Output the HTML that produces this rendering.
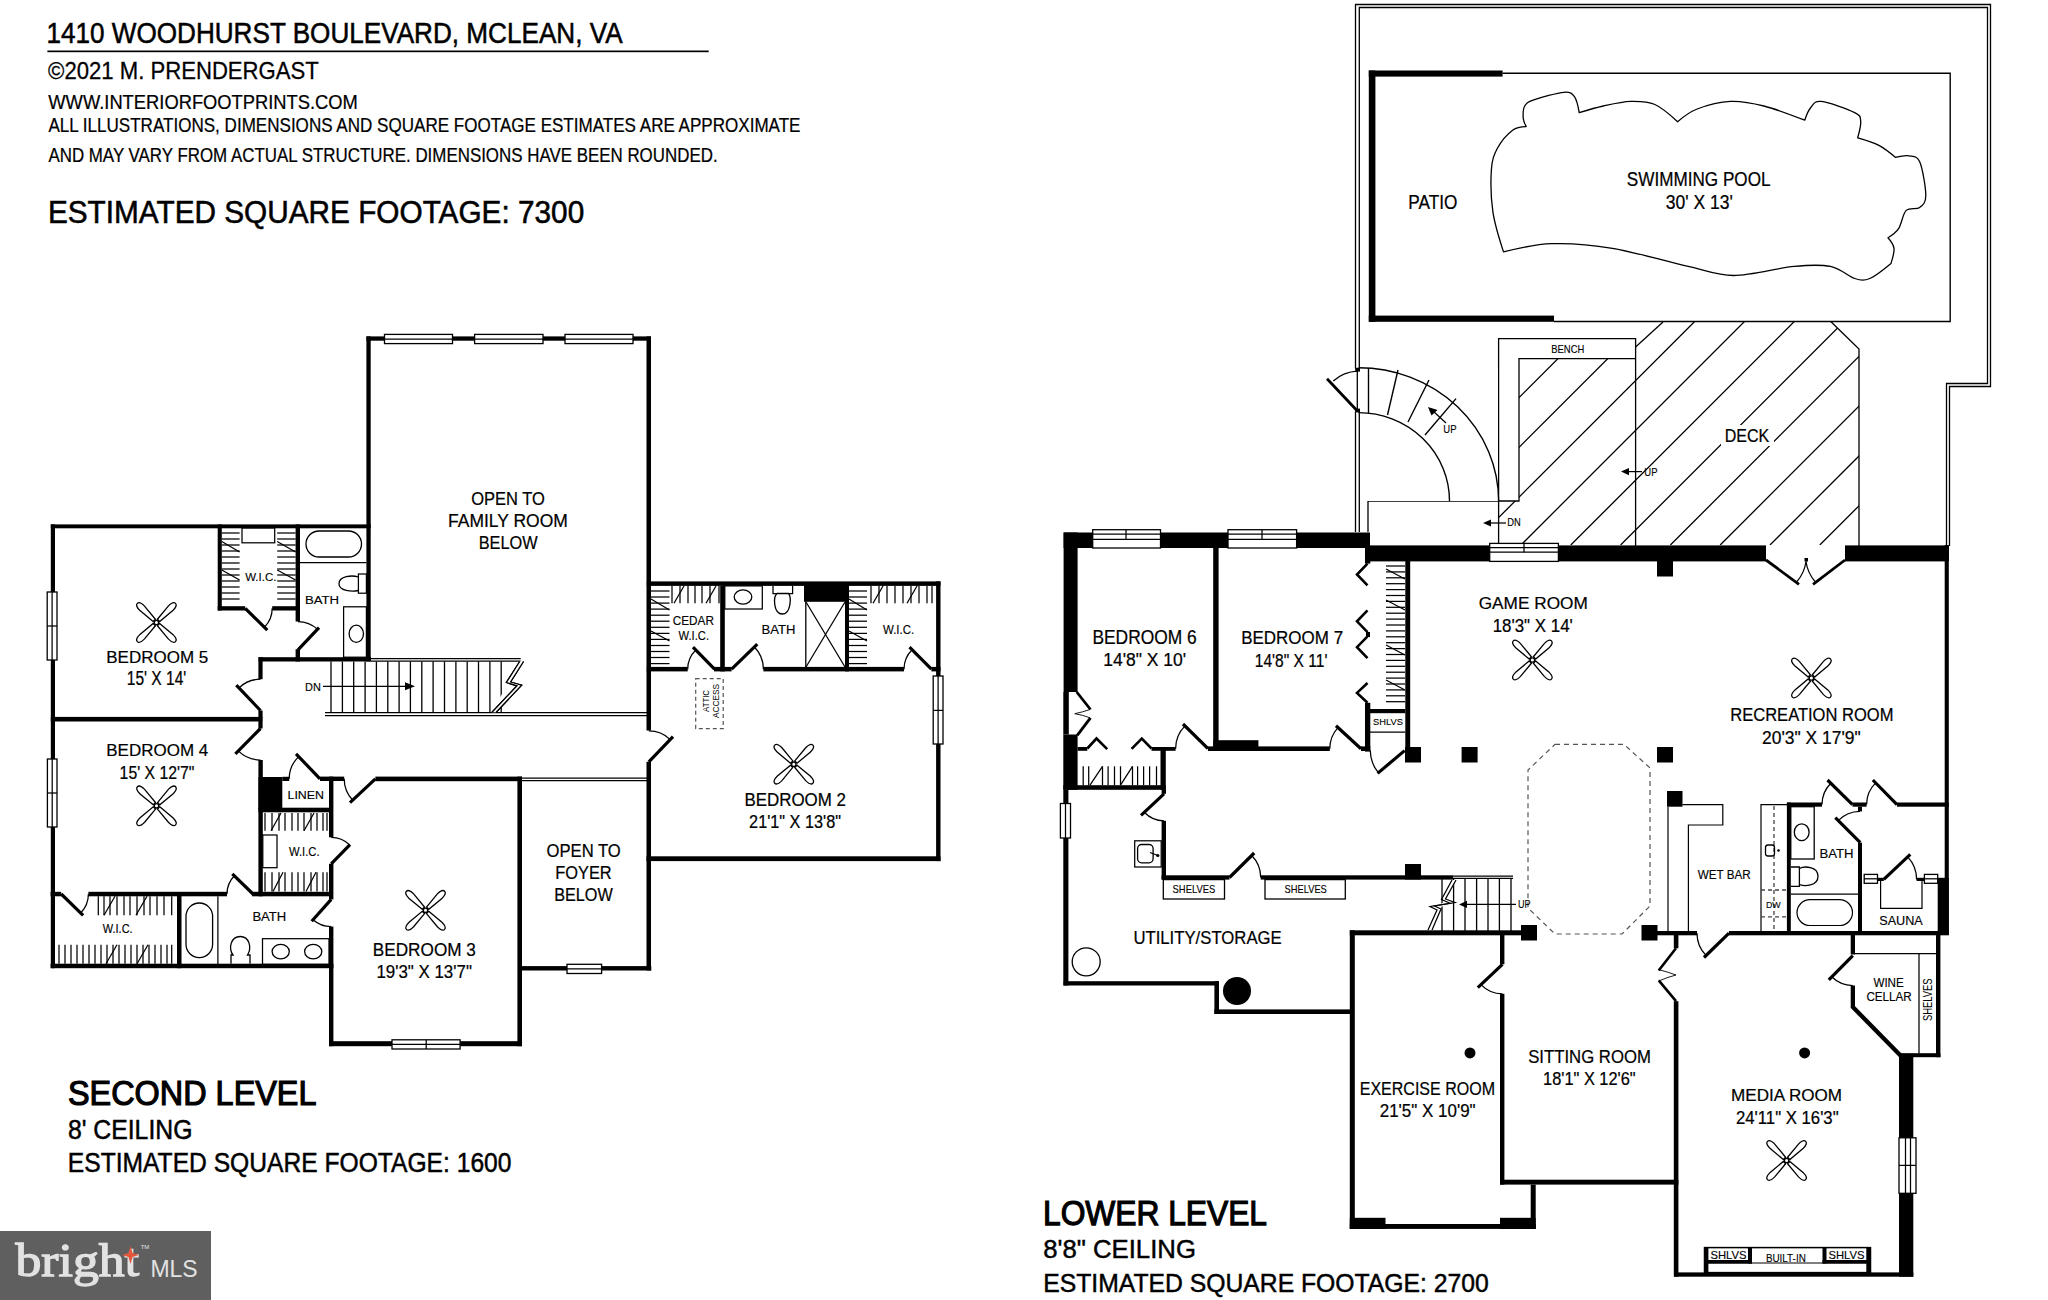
<!DOCTYPE html>
<html><head><meta charset="utf-8"><style>
html,body{margin:0;padding:0;background:#fff;}
svg{display:block;}
text{font-family:"Liberation Sans",sans-serif;fill:#000;}
</style></head><body>
<svg width="2048" height="1300" viewBox="0 0 2048 1300" stroke="#000" fill="none" stroke-linecap="butt">
<rect x="0" y="0" width="2048" height="1300" fill="#fff" stroke="none"/>
<text x="46.4" y="42.5" font-size="28.63" textLength="576.2" lengthAdjust="spacingAndGlyphs" font-weight="normal" stroke="#000" stroke-width="0.52">1410 WOODHURST BOULEVARD, MCLEAN, VA</text>
<rect x="47.4" y="50.5" width="661.3" height="1.7" fill="#000" stroke="none"/>
<text x="48.1" y="79.0" font-size="23.40" textLength="270.7" lengthAdjust="spacingAndGlyphs" font-weight="normal" stroke="#000" stroke-width="0.28">&#169;2021 M. PRENDERGAST</text>
<text x="48.3" y="109.3" font-size="20.20" textLength="309.6" lengthAdjust="spacingAndGlyphs" font-weight="normal" stroke="#000" stroke-width="0.24">WWW.INTERIORFOOTPRINTS.COM</text>
<text x="48.4" y="131.7" font-size="19.33" textLength="752.1" lengthAdjust="spacingAndGlyphs" font-weight="normal" stroke="#000" stroke-width="0.23">ALL ILLUSTRATIONS, DIMENSIONS AND SQUARE FOOTAGE ESTIMATES ARE APPROXIMATE</text>
<text x="48.4" y="162.2" font-size="19.48" textLength="669.2" lengthAdjust="spacingAndGlyphs" font-weight="normal" stroke="#000" stroke-width="0.23">AND MAY VARY FROM ACTUAL STRUCTURE. DIMENSIONS HAVE BEEN ROUNDED.</text>
<text x="47.9" y="222.5" font-size="30.81" textLength="536.3" lengthAdjust="spacingAndGlyphs" font-weight="normal" stroke="#000" stroke-width="0.55">ESTIMATED SQUARE FOOTAGE: 7300</text>
<rect x="50.8" y="524.4" width="4.2" height="443.8" fill="#000" stroke="none"/>
<rect x="50.8" y="524.4" width="319.9" height="3.9" fill="#000" stroke="none"/>
<rect x="50.8" y="716.9" width="211.5" height="4.6" fill="#000" stroke="none"/>
<rect x="217.7" y="524.4" width="4.1" height="86.1" fill="#000" stroke="none"/>
<rect x="217.7" y="606.2" width="27.5" height="4.3" fill="#000" stroke="none"/>
<rect x="272.2" y="606.2" width="27.8" height="4.3" fill="#000" stroke="none"/>
<line x1="245.2" y1="608.3" x2="267.3" y2="630.2" stroke-width="3.2" stroke-linecap="butt"/>
<path d="M264.4,627.3 A27.0,27.0 0 0 0 272.2,608.3" stroke-width="1.25" fill="none"/>
<rect x="295.6" y="524.4" width="4.4" height="97.1" fill="#000" stroke="none"/>
<rect x="295.6" y="649.2" width="4.4" height="12.3" fill="#000" stroke="none"/>
<line x1="298.0" y1="649.8" x2="319.0" y2="627.7" stroke-width="3.2" stroke-linecap="butt"/>
<path d="M317.5,629.3 A28.3,28.3 0 0 0 298.0,621.5" stroke-width="1.25" fill="none"/>
<rect x="366.4" y="336.4" width="4.3" height="325.1" fill="#000" stroke="none"/>
<rect x="366.4" y="336.4" width="284.4" height="4.3" fill="#000" stroke="none"/>
<rect x="646.5" y="336.4" width="4.5" height="394.1" fill="#000" stroke="none"/>
<rect x="646.5" y="761.8" width="4.5" height="208.7" fill="#000" stroke="none"/>
<rect x="384.5" y="334.4" width="68.0" height="9.2" fill="#fff" stroke="none"/>
<rect x="384.5" y="334.4" width="68.0" height="9.2" fill="#fff" stroke-width="1.3"/>
<line x1="384.5" y1="339.2" x2="452.5" y2="339.2" stroke-width="1.25"/>
<rect x="474.6" y="334.4" width="68.4" height="9.2" fill="#fff" stroke="none"/>
<rect x="474.6" y="334.4" width="68.4" height="9.2" fill="#fff" stroke-width="1.3"/>
<line x1="474.6" y1="339.2" x2="543.0" y2="339.2" stroke-width="1.25"/>
<rect x="565.0" y="334.4" width="68.0" height="9.2" fill="#fff" stroke="none"/>
<rect x="565.0" y="334.4" width="68.0" height="9.2" fill="#fff" stroke-width="1.3"/>
<line x1="565.0" y1="339.2" x2="633.0" y2="339.2" stroke-width="1.25"/>
<rect x="258.6" y="657.2" width="112.4" height="4.3" fill="#000" stroke="none"/>
<rect x="258.4" y="657.2" width="4.2" height="22.0" fill="#000" stroke="none"/>
<line x1="260.5" y1="710.5" x2="236.3" y2="685.2" stroke-width="3.2" stroke-linecap="butt"/>
<path d="M238.9,687.9 A31.3,31.3 0 0 1 260.5,679.2" stroke-width="1.25" fill="none"/>
<rect x="258.4" y="710.5" width="4.2" height="18.0" fill="#000" stroke="none"/>
<line x1="260.5" y1="728.5" x2="235.4" y2="753.8" stroke-width="3.2" stroke-linecap="butt"/>
<path d="M238.3,750.9 A31.5,31.5 0 0 0 260.5,760.0" stroke-width="1.25" fill="none"/>
<rect x="258.4" y="760.0" width="4.4" height="136.3" fill="#000" stroke="none"/>
<line x1="371.0" y1="658.6" x2="520.7" y2="658.6" stroke-width="1.25"/>
<line x1="371.0" y1="661.0" x2="520.7" y2="661.0" stroke-width="1.25"/>
<line x1="325.0" y1="712.6" x2="647.0" y2="712.6" stroke-width="1.25"/>
<line x1="325.0" y1="715.6" x2="647.0" y2="715.6" stroke-width="1.25"/>
<line x1="331.0" y1="661.5" x2="331.0" y2="712.2" stroke-width="1.3"/>
<line x1="342.4" y1="661.5" x2="342.4" y2="712.2" stroke-width="1.3"/>
<line x1="353.7" y1="661.5" x2="353.7" y2="712.2" stroke-width="1.3"/>
<line x1="365.1" y1="661.5" x2="365.1" y2="712.2" stroke-width="1.3"/>
<line x1="376.4" y1="661.5" x2="376.4" y2="712.2" stroke-width="1.3"/>
<line x1="387.8" y1="661.5" x2="387.8" y2="712.2" stroke-width="1.3"/>
<line x1="399.1" y1="661.5" x2="399.1" y2="712.2" stroke-width="1.3"/>
<line x1="410.4" y1="661.5" x2="410.4" y2="712.2" stroke-width="1.3"/>
<line x1="421.8" y1="661.5" x2="421.8" y2="712.2" stroke-width="1.3"/>
<line x1="433.1" y1="661.5" x2="433.1" y2="712.2" stroke-width="1.3"/>
<line x1="444.5" y1="661.5" x2="444.5" y2="712.2" stroke-width="1.3"/>
<line x1="455.9" y1="661.5" x2="455.9" y2="712.2" stroke-width="1.3"/>
<line x1="467.2" y1="661.5" x2="467.2" y2="712.2" stroke-width="1.3"/>
<line x1="478.5" y1="661.5" x2="478.5" y2="712.2" stroke-width="1.3"/>
<line x1="489.9" y1="661.5" x2="489.9" y2="712.2" stroke-width="1.3"/>
<line x1="501.2" y1="661.5" x2="501.2" y2="712.2" stroke-width="1.3"/>
<path d="M519.7,661.5 L506.4,682.5 L517.0,685.8 L492.0,712.2" stroke-width="1.3" fill="#fff" />
<path d="M523.5,661.5 L510.6,682.0 L521.6,685.2 L496.2,712.2" stroke-width="1.3" fill="none" />
<polygon points="519.7,661.5 523.5,661.5 510.6,682 521.6,685.2 496.2,712.2 492,712.2 517,685.8 506.4,682.5" fill="#fff" stroke="none"/>
<path d="M519.7,661.5 L506.4,682.5 L517.0,685.8 L492.0,712.2" stroke-width="1.25" fill="none" />
<path d="M523.5,661.5 L510.6,682.0 L521.6,685.2 L496.2,712.2" stroke-width="1.25" fill="none" />
<line x1="323.0" y1="686.3" x2="407.0" y2="686.3" stroke-width="1.25"/>
<polygon points="405,682.3 415,686.3 405,690.3" fill="#000" stroke="none"/>
<rect x="258.5" y="777.0" width="23.8" height="33.0" fill="#000" stroke="none"/>
<rect x="282.3" y="776.8" width="6.9" height="4.2" fill="#000" stroke="none"/>
<rect x="320.0" y="776.6" width="24.2" height="4.4" fill="#000" stroke="none"/>
<line x1="320.0" y1="778.8" x2="296.0" y2="753.8" stroke-width="3.2" stroke-linecap="butt"/>
<path d="M298.7,756.6 A30.8,30.8 0 0 0 289.2,778.8" stroke-width="1.25" fill="none"/>
<rect x="375.4" y="776.6" width="146.6" height="4.6" fill="#000" stroke="none"/>
<line x1="375.4" y1="778.8" x2="350.0" y2="802.7" stroke-width="3.2" stroke-linecap="butt"/>
<path d="M352.7,800.2 A31.2,31.2 0 0 1 344.2,778.8" stroke-width="1.25" fill="none"/>
<rect x="258.5" y="807.7" width="74.5" height="4.6" fill="#000" stroke="none"/>
<rect x="329.0" y="776.6" width="4.4" height="60.7" fill="#000" stroke="none"/>
<line x1="331.2" y1="863.8" x2="350.0" y2="844.6" stroke-width="3.2" stroke-linecap="butt"/>
<path d="M349.7,844.9 A26.5,26.5 0 0 0 331.2,837.3" stroke-width="1.25" fill="none"/>
<rect x="329.0" y="863.8" width="4.4" height="35.6" fill="#000" stroke="none"/>
<line x1="331.2" y1="899.4" x2="311.7" y2="921.3" stroke-width="3.2" stroke-linecap="butt"/>
<path d="M313.1,919.7 A27.2,27.2 0 0 0 331.2,926.6" stroke-width="1.25" fill="none"/>
<rect x="329.0" y="926.6" width="4.4" height="119.6" fill="#000" stroke="none"/>
<rect x="517.4" y="776.6" width="4.6" height="269.6" fill="#000" stroke="none"/>
<rect x="329.0" y="1041.2" width="193.0" height="5.0" fill="#000" stroke="none"/>
<rect x="392.0" y="1039.8" width="68.1" height="9.2" fill="#fff" stroke="none"/>
<rect x="392.0" y="1039.8" width="68.1" height="9.2" fill="#fff" stroke-width="1.3"/>
<line x1="392.0" y1="1044.4" x2="460.1" y2="1044.4" stroke-width="1.25"/>
<line x1="426.2" y1="1039.8" x2="426.2" y2="1049.0" stroke-width="1.25"/>
<line x1="522.0" y1="778.0" x2="647.0" y2="778.0" stroke-width="1.25"/>
<line x1="522.0" y1="780.6" x2="647.0" y2="780.6" stroke-width="1.25"/>
<rect x="522.0" y="966.1" width="129.3" height="4.4" fill="#000" stroke="none"/>
<rect x="567.0" y="964.3" width="34.6" height="9.2" fill="#fff" stroke="none"/>
<rect x="567.0" y="964.3" width="34.6" height="9.2" fill="#fff" stroke-width="1.3"/>
<line x1="567.0" y1="968.9" x2="601.6" y2="968.9" stroke-width="1.25"/>
<rect x="50.6" y="891.8" width="10.6" height="4.5" fill="#000" stroke="none"/>
<rect x="88.4" y="891.8" width="138.6" height="4.5" fill="#000" stroke="none"/>
<rect x="252.0" y="891.8" width="81.0" height="4.5" fill="#000" stroke="none"/>
<line x1="61.2" y1="894.0" x2="83.1" y2="915.3" stroke-width="3.2" stroke-linecap="butt"/>
<path d="M80.7,913.0 A27.2,27.2 0 0 0 88.4,894.0" stroke-width="1.25" fill="none"/>
<line x1="253.0" y1="894.0" x2="232.3" y2="873.8" stroke-width="3.2" stroke-linecap="butt"/>
<path d="M234.4,875.8 A26.0,26.0 0 0 0 227.0,894.0" stroke-width="1.25" fill="none"/>
<rect x="177.0" y="892.0" width="4.5" height="76.2" fill="#000" stroke="none"/>
<rect x="50.6" y="963.7" width="282.8" height="4.5" fill="#000" stroke="none"/>
<rect x="47.2" y="592.0" width="9.8" height="68.0" fill="#fff" stroke-width="1.3"/>
<line x1="52.1" y1="592.0" x2="52.1" y2="660.0" stroke-width="1.25"/>
<line x1="47.2" y1="626.0" x2="57.0" y2="626.0" stroke-width="1.25"/>
<rect x="47.4" y="759.0" width="9.6" height="68.0" fill="#fff" stroke-width="1.3"/>
<line x1="52.2" y1="759.0" x2="52.2" y2="827.0" stroke-width="1.25"/>
<line x1="47.4" y1="793.0" x2="57.0" y2="793.0" stroke-width="1.25"/>
<rect x="646.8" y="581.4" width="293.7" height="4.5" fill="#000" stroke="none"/>
<rect x="936.1" y="581.4" width="4.4" height="279.7" fill="#000" stroke="none"/>
<rect x="646.5" y="856.3" width="294.0" height="4.8" fill="#000" stroke="none"/>
<rect x="933.2" y="676.0" width="9.8" height="68.0" fill="#fff" stroke-width="1.3"/>
<line x1="938.1" y1="676.0" x2="938.1" y2="744.0" stroke-width="1.25"/>
<line x1="933.2" y1="710.4" x2="943.0" y2="710.4" stroke-width="1.25"/>
<rect x="720.2" y="585.9" width="4.6" height="85.5" fill="#000" stroke="none"/>
<rect x="804.0" y="585.0" width="45.0" height="16.8" fill="#000" stroke="none"/>
<rect x="845.0" y="585.9" width="4.0" height="85.5" fill="#000" stroke="none"/>
<line x1="805.8" y1="601.8" x2="805.8" y2="667.0" stroke-width="1.3"/>
<line x1="806.0" y1="602.0" x2="845.0" y2="667.0" stroke-width="1.25"/>
<line x1="845.0" y1="602.0" x2="806.0" y2="667.0" stroke-width="1.25"/>
<rect x="646.8" y="666.9" width="40.9" height="4.5" fill="#000" stroke="none"/>
<rect x="714.0" y="666.9" width="17.6" height="4.5" fill="#000" stroke="none"/>
<rect x="763.4" y="666.9" width="140.6" height="4.5" fill="#000" stroke="none"/>
<rect x="931.4" y="666.9" width="9.1" height="4.5" fill="#000" stroke="none"/>
<line x1="714.5" y1="669.2" x2="693.0" y2="647.2" stroke-width="3.2" stroke-linecap="butt"/>
<path d="M695.8,650.0 A26.8,26.8 0 0 0 687.7,669.2" stroke-width="1.25" fill="none"/>
<line x1="731.6" y1="669.2" x2="757.3" y2="644.2" stroke-width="3.2" stroke-linecap="butt"/>
<path d="M754.4,647.0 A31.8,31.8 0 0 1 763.4,669.2" stroke-width="1.25" fill="none"/>
<line x1="931.4" y1="669.2" x2="909.5" y2="647.2" stroke-width="3.2" stroke-linecap="butt"/>
<path d="M912.1,649.8 A27.4,27.4 0 0 0 904.0,669.2" stroke-width="1.25" fill="none"/>
<line x1="648.8" y1="761.8" x2="673.0" y2="736.7" stroke-width="3.2" stroke-linecap="butt"/>
<path d="M670.2,739.6 A30.8,30.8 0 0 0 648.8,731.0" stroke-width="1.25" fill="none"/>
<rect x="306" y="531" width="55.5" height="26" rx="13" fill="none" stroke-width="1.3"/>
<line x1="300.0" y1="562.5" x2="366.4" y2="562.5" stroke-width="1.25"/>
<rect x="358.4" y="574" width="8" height="19.2" fill="none" stroke-width="1.25"/>
<path d="M358.4,577 C352,575 339,576 339,583.7 C339,591 352,592 358.4,590.5" fill="none" stroke-width="1.3"/>
<rect x="343.6" y="606.8" width="22.8" height="50.4" fill="none" stroke-width="1.25"/>
<ellipse cx="356.3" cy="633.8" rx="7.2" ry="8.6" fill="none" stroke-width="1.3"/>
<rect x="242" y="528" width="32.7" height="14.8" fill="none" stroke-width="1.25"/>
<line x1="221.8" y1="533.0" x2="239.6" y2="533.0" stroke-width="1.25"/>
<line x1="277.2" y1="533.0" x2="295.6" y2="533.0" stroke-width="1.25"/>
<line x1="221.8" y1="539.0" x2="239.6" y2="539.0" stroke-width="1.25"/>
<line x1="277.2" y1="539.0" x2="295.6" y2="539.0" stroke-width="1.25"/>
<line x1="221.8" y1="545.0" x2="239.6" y2="545.0" stroke-width="1.25"/>
<line x1="277.2" y1="545.0" x2="295.6" y2="545.0" stroke-width="1.25"/>
<line x1="221.8" y1="551.0" x2="239.6" y2="551.0" stroke-width="1.25"/>
<line x1="277.2" y1="551.0" x2="295.6" y2="551.0" stroke-width="1.25"/>
<line x1="221.8" y1="557.0" x2="239.6" y2="557.0" stroke-width="1.25"/>
<line x1="277.2" y1="557.0" x2="295.6" y2="557.0" stroke-width="1.25"/>
<line x1="221.8" y1="563.0" x2="239.6" y2="563.0" stroke-width="1.25"/>
<line x1="277.2" y1="563.0" x2="295.6" y2="563.0" stroke-width="1.25"/>
<line x1="221.8" y1="569.0" x2="239.6" y2="569.0" stroke-width="1.25"/>
<line x1="277.2" y1="569.0" x2="295.6" y2="569.0" stroke-width="1.25"/>
<line x1="221.8" y1="575.0" x2="239.6" y2="575.0" stroke-width="1.25"/>
<line x1="277.2" y1="575.0" x2="295.6" y2="575.0" stroke-width="1.25"/>
<line x1="221.8" y1="581.0" x2="239.6" y2="581.0" stroke-width="1.25"/>
<line x1="277.2" y1="581.0" x2="295.6" y2="581.0" stroke-width="1.25"/>
<line x1="221.8" y1="587.0" x2="239.6" y2="587.0" stroke-width="1.25"/>
<line x1="277.2" y1="587.0" x2="295.6" y2="587.0" stroke-width="1.25"/>
<line x1="221.8" y1="593.0" x2="239.6" y2="593.0" stroke-width="1.25"/>
<line x1="277.2" y1="593.0" x2="295.6" y2="593.0" stroke-width="1.25"/>
<line x1="221.8" y1="599.0" x2="239.6" y2="599.0" stroke-width="1.25"/>
<line x1="277.2" y1="599.0" x2="295.6" y2="599.0" stroke-width="1.25"/>
<line x1="221.8" y1="541.5" x2="239.6" y2="552.0" stroke-width="1.25"/>
<line x1="277.2" y1="541.5" x2="295.6" y2="552.0" stroke-width="1.25"/>
<line x1="221.8" y1="570.0" x2="239.6" y2="580.0" stroke-width="1.25"/>
<line x1="277.2" y1="570.0" x2="295.6" y2="580.0" stroke-width="1.25"/>
<line x1="651.0" y1="591.0" x2="669.5" y2="591.0" stroke-width="1.25"/>
<line x1="651.0" y1="597.0" x2="669.5" y2="597.0" stroke-width="1.25"/>
<line x1="651.0" y1="603.1" x2="669.5" y2="603.1" stroke-width="1.25"/>
<line x1="651.0" y1="609.1" x2="669.5" y2="609.1" stroke-width="1.25"/>
<line x1="651.0" y1="615.2" x2="669.5" y2="615.2" stroke-width="1.25"/>
<line x1="651.0" y1="621.2" x2="669.5" y2="621.2" stroke-width="1.25"/>
<line x1="651.0" y1="627.3" x2="669.5" y2="627.3" stroke-width="1.25"/>
<line x1="651.0" y1="633.4" x2="669.5" y2="633.4" stroke-width="1.25"/>
<line x1="651.0" y1="639.4" x2="669.5" y2="639.4" stroke-width="1.25"/>
<line x1="651.0" y1="645.5" x2="669.5" y2="645.5" stroke-width="1.25"/>
<line x1="651.0" y1="651.5" x2="669.5" y2="651.5" stroke-width="1.25"/>
<line x1="651.0" y1="657.5" x2="669.5" y2="657.5" stroke-width="1.25"/>
<line x1="651.0" y1="663.6" x2="669.5" y2="663.6" stroke-width="1.25"/>
<line x1="651.0" y1="599.0" x2="669.5" y2="610.0" stroke-width="1.25"/>
<line x1="651.0" y1="631.0" x2="669.5" y2="641.0" stroke-width="1.25"/>
<line x1="672.0" y1="586.0" x2="672.0" y2="603.3" stroke-width="1.25"/>
<line x1="680.0" y1="586.0" x2="680.0" y2="603.3" stroke-width="1.25"/>
<line x1="688.0" y1="586.0" x2="688.0" y2="603.3" stroke-width="1.25"/>
<line x1="695.0" y1="586.0" x2="695.0" y2="603.3" stroke-width="1.25"/>
<line x1="702.0" y1="586.0" x2="702.0" y2="603.3" stroke-width="1.25"/>
<line x1="710.0" y1="586.0" x2="710.0" y2="603.3" stroke-width="1.25"/>
<line x1="719.0" y1="586.0" x2="719.0" y2="603.3" stroke-width="1.25"/>
<line x1="674.0" y1="603.3" x2="684.0" y2="586.0" stroke-width="1.25"/>
<line x1="706.0" y1="603.3" x2="716.0" y2="586.0" stroke-width="1.25"/>
<line x1="849.0" y1="591.0" x2="867.0" y2="591.0" stroke-width="1.25"/>
<line x1="849.0" y1="597.0" x2="867.0" y2="597.0" stroke-width="1.25"/>
<line x1="849.0" y1="603.1" x2="867.0" y2="603.1" stroke-width="1.25"/>
<line x1="849.0" y1="609.1" x2="867.0" y2="609.1" stroke-width="1.25"/>
<line x1="849.0" y1="615.2" x2="867.0" y2="615.2" stroke-width="1.25"/>
<line x1="849.0" y1="621.2" x2="867.0" y2="621.2" stroke-width="1.25"/>
<line x1="849.0" y1="627.3" x2="867.0" y2="627.3" stroke-width="1.25"/>
<line x1="849.0" y1="633.4" x2="867.0" y2="633.4" stroke-width="1.25"/>
<line x1="849.0" y1="639.4" x2="867.0" y2="639.4" stroke-width="1.25"/>
<line x1="849.0" y1="645.5" x2="867.0" y2="645.5" stroke-width="1.25"/>
<line x1="849.0" y1="651.5" x2="867.0" y2="651.5" stroke-width="1.25"/>
<line x1="849.0" y1="657.5" x2="867.0" y2="657.5" stroke-width="1.25"/>
<line x1="849.0" y1="663.6" x2="867.0" y2="663.6" stroke-width="1.25"/>
<line x1="849.0" y1="599.0" x2="867.0" y2="610.0" stroke-width="1.25"/>
<line x1="849.0" y1="631.0" x2="867.0" y2="641.0" stroke-width="1.25"/>
<line x1="871.0" y1="586.0" x2="871.0" y2="603.3" stroke-width="1.25"/>
<line x1="879.0" y1="586.0" x2="879.0" y2="603.3" stroke-width="1.25"/>
<line x1="887.0" y1="586.0" x2="887.0" y2="603.3" stroke-width="1.25"/>
<line x1="895.0" y1="586.0" x2="895.0" y2="603.3" stroke-width="1.25"/>
<line x1="903.0" y1="586.0" x2="903.0" y2="603.3" stroke-width="1.25"/>
<line x1="911.0" y1="586.0" x2="911.0" y2="603.3" stroke-width="1.25"/>
<line x1="919.0" y1="586.0" x2="919.0" y2="603.3" stroke-width="1.25"/>
<line x1="927.0" y1="586.0" x2="927.0" y2="603.3" stroke-width="1.25"/>
<line x1="932.0" y1="586.0" x2="932.0" y2="603.3" stroke-width="1.25"/>
<line x1="873.0" y1="603.3" x2="883.0" y2="586.0" stroke-width="1.25"/>
<line x1="907.0" y1="603.3" x2="917.0" y2="586.0" stroke-width="1.25"/>
<rect x="724.8" y="585.9" width="37.5" height="23.1" fill="none" stroke-width="1.25"/>
<ellipse cx="743" cy="597" rx="8.8" ry="7.2" fill="none" stroke-width="1.3"/>
<path d="M773,585.9 V593.5 H777 M792.6,585.9 V593.5 H788.5" fill="none" stroke-width="1.25"/>
<path d="M777,593.5 C773,597 773.5,614 782.3,614 C791,614 791.5,597 788.5,593.5 Z" fill="none" stroke-width="1.3"/>
<rect x="695.7" y="678.6" width="27.5" height="50.1" fill="none" stroke="#555" stroke-width="1.2" stroke-dasharray="4,3"/>
<text transform="translate(708.5,712) rotate(-90)" font-size="9.3" textLength="22" lengthAdjust="spacingAndGlyphs" stroke="none">ATTIC</text>
<text transform="translate(719,718) rotate(-90)" font-size="9.3" textLength="34" lengthAdjust="spacingAndGlyphs" stroke="none">ACCESS</text>
<rect x="262.8" y="835" width="14.2" height="32.7" fill="none" stroke-width="1.25"/>
<line x1="265.0" y1="813.0" x2="265.0" y2="830.8" stroke-width="1.25"/>
<line x1="265.0" y1="872.3" x2="265.0" y2="891.5" stroke-width="1.25"/>
<line x1="272.0" y1="813.0" x2="272.0" y2="830.8" stroke-width="1.25"/>
<line x1="272.0" y1="872.3" x2="272.0" y2="891.5" stroke-width="1.25"/>
<line x1="279.0" y1="813.0" x2="279.0" y2="830.8" stroke-width="1.25"/>
<line x1="279.0" y1="872.3" x2="279.0" y2="891.5" stroke-width="1.25"/>
<line x1="285.0" y1="813.0" x2="285.0" y2="830.8" stroke-width="1.25"/>
<line x1="285.0" y1="872.3" x2="285.0" y2="891.5" stroke-width="1.25"/>
<line x1="292.0" y1="813.0" x2="292.0" y2="830.8" stroke-width="1.25"/>
<line x1="292.0" y1="872.3" x2="292.0" y2="891.5" stroke-width="1.25"/>
<line x1="298.0" y1="813.0" x2="298.0" y2="830.8" stroke-width="1.25"/>
<line x1="298.0" y1="872.3" x2="298.0" y2="891.5" stroke-width="1.25"/>
<line x1="304.0" y1="813.0" x2="304.0" y2="830.8" stroke-width="1.25"/>
<line x1="304.0" y1="872.3" x2="304.0" y2="891.5" stroke-width="1.25"/>
<line x1="311.0" y1="813.0" x2="311.0" y2="830.8" stroke-width="1.25"/>
<line x1="311.0" y1="872.3" x2="311.0" y2="891.5" stroke-width="1.25"/>
<line x1="317.0" y1="813.0" x2="317.0" y2="830.8" stroke-width="1.25"/>
<line x1="317.0" y1="872.3" x2="317.0" y2="891.5" stroke-width="1.25"/>
<line x1="323.0" y1="813.0" x2="323.0" y2="830.8" stroke-width="1.25"/>
<line x1="323.0" y1="872.3" x2="323.0" y2="891.5" stroke-width="1.25"/>
<line x1="327.0" y1="813.0" x2="327.0" y2="830.8" stroke-width="1.25"/>
<line x1="327.0" y1="872.3" x2="327.0" y2="891.5" stroke-width="1.25"/>
<line x1="271.0" y1="830.8" x2="281.0" y2="813.0" stroke-width="1.25"/>
<line x1="304.0" y1="830.8" x2="314.0" y2="813.0" stroke-width="1.25"/>
<line x1="273.0" y1="891.5" x2="283.0" y2="872.3" stroke-width="1.25"/>
<line x1="306.0" y1="891.5" x2="316.0" y2="872.3" stroke-width="1.25"/>
<line x1="98.3" y1="896.3" x2="98.3" y2="915.3" stroke-width="1.25"/>
<line x1="104.0" y1="896.3" x2="104.0" y2="915.3" stroke-width="1.25"/>
<line x1="110.0" y1="896.3" x2="110.0" y2="915.3" stroke-width="1.25"/>
<line x1="117.0" y1="896.3" x2="117.0" y2="915.3" stroke-width="1.25"/>
<line x1="124.0" y1="896.3" x2="124.0" y2="915.3" stroke-width="1.25"/>
<line x1="130.0" y1="896.3" x2="130.0" y2="915.3" stroke-width="1.25"/>
<line x1="137.0" y1="896.3" x2="137.0" y2="915.3" stroke-width="1.25"/>
<line x1="144.0" y1="896.3" x2="144.0" y2="915.3" stroke-width="1.25"/>
<line x1="150.0" y1="896.3" x2="150.0" y2="915.3" stroke-width="1.25"/>
<line x1="157.0" y1="896.3" x2="157.0" y2="915.3" stroke-width="1.25"/>
<line x1="164.0" y1="896.3" x2="164.0" y2="915.3" stroke-width="1.25"/>
<line x1="171.7" y1="896.3" x2="171.7" y2="915.3" stroke-width="1.25"/>
<line x1="59.0" y1="944.8" x2="59.0" y2="963.7" stroke-width="1.25"/>
<line x1="65.0" y1="944.8" x2="65.0" y2="963.7" stroke-width="1.25"/>
<line x1="71.0" y1="944.8" x2="71.0" y2="963.7" stroke-width="1.25"/>
<line x1="77.0" y1="944.8" x2="77.0" y2="963.7" stroke-width="1.25"/>
<line x1="83.0" y1="944.8" x2="83.0" y2="963.7" stroke-width="1.25"/>
<line x1="89.0" y1="944.8" x2="89.0" y2="963.7" stroke-width="1.25"/>
<line x1="95.0" y1="944.8" x2="95.0" y2="963.7" stroke-width="1.25"/>
<line x1="101.0" y1="944.8" x2="101.0" y2="963.7" stroke-width="1.25"/>
<line x1="107.0" y1="944.8" x2="107.0" y2="963.7" stroke-width="1.25"/>
<line x1="113.0" y1="944.8" x2="113.0" y2="963.7" stroke-width="1.25"/>
<line x1="119.0" y1="944.8" x2="119.0" y2="963.7" stroke-width="1.25"/>
<line x1="125.0" y1="944.8" x2="125.0" y2="963.7" stroke-width="1.25"/>
<line x1="131.0" y1="944.8" x2="131.0" y2="963.7" stroke-width="1.25"/>
<line x1="137.0" y1="944.8" x2="137.0" y2="963.7" stroke-width="1.25"/>
<line x1="143.0" y1="944.8" x2="143.0" y2="963.7" stroke-width="1.25"/>
<line x1="149.0" y1="944.8" x2="149.0" y2="963.7" stroke-width="1.25"/>
<line x1="155.0" y1="944.8" x2="155.0" y2="963.7" stroke-width="1.25"/>
<line x1="161.0" y1="944.8" x2="161.0" y2="963.7" stroke-width="1.25"/>
<line x1="167.0" y1="944.8" x2="167.0" y2="963.7" stroke-width="1.25"/>
<line x1="171.7" y1="944.8" x2="171.7" y2="963.7" stroke-width="1.25"/>
<line x1="104.0" y1="915.3" x2="115.0" y2="896.3" stroke-width="1.25"/>
<line x1="136.0" y1="915.3" x2="147.0" y2="896.3" stroke-width="1.25"/>
<line x1="106.0" y1="963.7" x2="117.0" y2="944.8" stroke-width="1.25"/>
<line x1="137.0" y1="963.7" x2="148.0" y2="944.8" stroke-width="1.25"/>
<rect x="186" y="903" width="26.6" height="54.6" rx="13.3" fill="none" stroke-width="1.3"/>
<line x1="217.9" y1="896.3" x2="217.9" y2="964.0" stroke-width="1.25"/>
<path d="M231,963.7 V955 H233 C228,948 231,936.5 240.2,936.5 C249.5,936.5 252,948 247.5,955 H250 V963.7" fill="none" stroke-width="1.3"/>
<rect x="262.5" y="938.7" width="66.5" height="25.7" fill="none" stroke-width="1.25"/>
<ellipse cx="280.7" cy="951.6" rx="8.6" ry="7.3" fill="none" stroke-width="1.3"/>
<ellipse cx="313.2" cy="951.6" rx="8.6" ry="7.3" fill="none" stroke-width="1.3"/>
<g transform="translate(156.4,622.5) rotate(45)"><path d="M3,-1.6 L20,-3.2 Q27,-3.2 27,0 Q27,3.2 20,3.2 L3,1.6 Z" fill="#fff" stroke-width="1.3"/></g><g transform="translate(156.4,622.5) rotate(135)"><path d="M3,-1.6 L20,-3.2 Q27,-3.2 27,0 Q27,3.2 20,3.2 L3,1.6 Z" fill="#fff" stroke-width="1.3"/></g><g transform="translate(156.4,622.5) rotate(225)"><path d="M3,-1.6 L20,-3.2 Q27,-3.2 27,0 Q27,3.2 20,3.2 L3,1.6 Z" fill="#fff" stroke-width="1.3"/></g><g transform="translate(156.4,622.5) rotate(315)"><path d="M3,-1.6 L20,-3.2 Q27,-3.2 27,0 Q27,3.2 20,3.2 L3,1.6 Z" fill="#fff" stroke-width="1.3"/></g>
<circle cx="156.4" cy="622.5" r="2.2" fill="#fff" stroke-width="1.3"/>
<g transform="translate(156.5,805.8) rotate(45)"><path d="M3,-1.6 L20,-3.2 Q27,-3.2 27,0 Q27,3.2 20,3.2 L3,1.6 Z" fill="#fff" stroke-width="1.3"/></g><g transform="translate(156.5,805.8) rotate(135)"><path d="M3,-1.6 L20,-3.2 Q27,-3.2 27,0 Q27,3.2 20,3.2 L3,1.6 Z" fill="#fff" stroke-width="1.3"/></g><g transform="translate(156.5,805.8) rotate(225)"><path d="M3,-1.6 L20,-3.2 Q27,-3.2 27,0 Q27,3.2 20,3.2 L3,1.6 Z" fill="#fff" stroke-width="1.3"/></g><g transform="translate(156.5,805.8) rotate(315)"><path d="M3,-1.6 L20,-3.2 Q27,-3.2 27,0 Q27,3.2 20,3.2 L3,1.6 Z" fill="#fff" stroke-width="1.3"/></g>
<circle cx="156.5" cy="805.8" r="2.2" fill="#fff" stroke-width="1.3"/>
<g transform="translate(425.5,910.3) rotate(45)"><path d="M3,-1.6 L20,-3.2 Q27,-3.2 27,0 Q27,3.2 20,3.2 L3,1.6 Z" fill="#fff" stroke-width="1.3"/></g><g transform="translate(425.5,910.3) rotate(135)"><path d="M3,-1.6 L20,-3.2 Q27,-3.2 27,0 Q27,3.2 20,3.2 L3,1.6 Z" fill="#fff" stroke-width="1.3"/></g><g transform="translate(425.5,910.3) rotate(225)"><path d="M3,-1.6 L20,-3.2 Q27,-3.2 27,0 Q27,3.2 20,3.2 L3,1.6 Z" fill="#fff" stroke-width="1.3"/></g><g transform="translate(425.5,910.3) rotate(315)"><path d="M3,-1.6 L20,-3.2 Q27,-3.2 27,0 Q27,3.2 20,3.2 L3,1.6 Z" fill="#fff" stroke-width="1.3"/></g>
<circle cx="425.5" cy="910.3" r="2.2" fill="#fff" stroke-width="1.3"/>
<g transform="translate(793.8,764.2) rotate(45)"><path d="M3,-1.6 L20,-3.2 Q27,-3.2 27,0 Q27,3.2 20,3.2 L3,1.6 Z" fill="#fff" stroke-width="1.3"/></g><g transform="translate(793.8,764.2) rotate(135)"><path d="M3,-1.6 L20,-3.2 Q27,-3.2 27,0 Q27,3.2 20,3.2 L3,1.6 Z" fill="#fff" stroke-width="1.3"/></g><g transform="translate(793.8,764.2) rotate(225)"><path d="M3,-1.6 L20,-3.2 Q27,-3.2 27,0 Q27,3.2 20,3.2 L3,1.6 Z" fill="#fff" stroke-width="1.3"/></g><g transform="translate(793.8,764.2) rotate(315)"><path d="M3,-1.6 L20,-3.2 Q27,-3.2 27,0 Q27,3.2 20,3.2 L3,1.6 Z" fill="#fff" stroke-width="1.3"/></g>
<circle cx="793.8" cy="764.2" r="2.2" fill="#fff" stroke-width="1.3"/>
<text x="471.2" y="505.0" font-size="18.90" textLength="73.6" lengthAdjust="spacingAndGlyphs" font-weight="normal" stroke="#000" stroke-width="0.23">OPEN TO</text>
<text x="448.1" y="527.0" font-size="17.44" textLength="119.7" lengthAdjust="spacingAndGlyphs" font-weight="normal" stroke="#000" stroke-width="0.21">FAMILY ROOM</text>
<text x="478.7" y="549.0" font-size="17.44" textLength="58.9" lengthAdjust="spacingAndGlyphs" font-weight="normal" stroke="#000" stroke-width="0.21">BELOW</text>
<text x="106.3" y="663.2" font-size="17.30" textLength="101.9" lengthAdjust="spacingAndGlyphs" font-weight="normal" stroke="#000" stroke-width="0.21">BEDROOM 5</text>
<text x="126.8" y="685.2" font-size="19.77" textLength="59.5" lengthAdjust="spacingAndGlyphs" font-weight="normal" stroke="#000" stroke-width="0.24">15' X 14'</text>
<text x="245.2" y="581.0" font-size="11.77" textLength="31.2" lengthAdjust="spacingAndGlyphs" font-weight="normal" stroke="#000" stroke-width="0.14">W.I.C.</text>
<text x="305.0" y="603.7" font-size="11.63" textLength="34.1" lengthAdjust="spacingAndGlyphs" font-weight="normal" stroke="#000" stroke-width="0.14">BATH</text>
<text x="106.3" y="756.2" font-size="16.86" textLength="101.9" lengthAdjust="spacingAndGlyphs" font-weight="normal" stroke="#000" stroke-width="0.2">BEDROOM 4</text>
<text x="119.6" y="778.5" font-size="18.17" textLength="74.9" lengthAdjust="spacingAndGlyphs" font-weight="normal" stroke="#000" stroke-width="0.22">15' X 12'7"</text>
<text x="287.5" y="798.5" font-size="11.19" textLength="36.5" lengthAdjust="spacingAndGlyphs" font-weight="normal" stroke="#000" stroke-width="0.13">LINEN</text>
<text x="289.0" y="856.0" font-size="12.06" textLength="30.6" lengthAdjust="spacingAndGlyphs" font-weight="normal" stroke="#000" stroke-width="0.14">W.I.C.</text>
<text x="102.8" y="933.4" font-size="12.21" textLength="29.8" lengthAdjust="spacingAndGlyphs" font-weight="normal" stroke="#000" stroke-width="0.15">W.I.C.</text>
<text x="252.4" y="920.5" font-size="12.06" textLength="33.9" lengthAdjust="spacingAndGlyphs" font-weight="normal" stroke="#000" stroke-width="0.14">BATH</text>
<text x="372.8" y="956.2" font-size="18.46" textLength="103.1" lengthAdjust="spacingAndGlyphs" font-weight="normal" stroke="#000" stroke-width="0.22">BEDROOM 3</text>
<text x="376.4" y="978.1" font-size="18.31" textLength="95.5" lengthAdjust="spacingAndGlyphs" font-weight="normal" stroke="#000" stroke-width="0.22">19'3" X 13'7"</text>
<text x="546.6" y="857.0" font-size="18.46" textLength="74.2" lengthAdjust="spacingAndGlyphs" font-weight="normal" stroke="#000" stroke-width="0.22">OPEN TO</text>
<text x="555.3" y="879.3" font-size="18.02" textLength="56.4" lengthAdjust="spacingAndGlyphs" font-weight="normal" stroke="#000" stroke-width="0.22">FOYER</text>
<text x="554.2" y="901.3" font-size="19.19" textLength="58.6" lengthAdjust="spacingAndGlyphs" font-weight="normal" stroke="#000" stroke-width="0.23">BELOW</text>
<text x="672.7" y="625.3" font-size="12.06" textLength="41.2" lengthAdjust="spacingAndGlyphs" font-weight="normal" stroke="#000" stroke-width="0.14">CEDAR</text>
<text x="678.6" y="639.6" font-size="12.06" textLength="30.4" lengthAdjust="spacingAndGlyphs" font-weight="normal" stroke="#000" stroke-width="0.14">W.I.C.</text>
<text x="761.6" y="634.3" font-size="12.06" textLength="33.9" lengthAdjust="spacingAndGlyphs" font-weight="normal" stroke="#000" stroke-width="0.14">BATH</text>
<text x="883.0" y="634.3" font-size="12.06" textLength="31.1" lengthAdjust="spacingAndGlyphs" font-weight="normal" stroke="#000" stroke-width="0.14">W.I.C.</text>
<text x="744.4" y="806.2" font-size="17.73" textLength="101.6" lengthAdjust="spacingAndGlyphs" font-weight="normal" stroke="#000" stroke-width="0.21">BEDROOM 2</text>
<text x="749.1" y="828.0" font-size="17.44" textLength="91.9" lengthAdjust="spacingAndGlyphs" font-weight="normal" stroke="#000" stroke-width="0.21">21'1" X 13'8"</text>
<text x="305.1" y="690.5" font-size="10.90" textLength="15.8" lengthAdjust="spacingAndGlyphs" font-weight="normal" stroke="#000" stroke-width="0.13">DN</text>
<text x="68.0" y="1105.0" font-size="35.47" textLength="248.5" lengthAdjust="spacingAndGlyphs" font-weight="normal" stroke="#000" stroke-width="1.24">SECOND LEVEL</text>
<text x="67.9" y="1138.8" font-size="27.33" textLength="124.6" lengthAdjust="spacingAndGlyphs" font-weight="normal" stroke="#000" stroke-width="0.49">8' CEILING</text>
<text x="67.8" y="1171.6" font-size="27.03" textLength="443.7" lengthAdjust="spacingAndGlyphs" font-weight="normal" stroke="#000" stroke-width="0.49">ESTIMATED SQUARE FOOTAGE: 1600</text>
<path d="M1355.5,532 V411.8 M1355.5,368.6 V4.5 H1990.5 V386.5 H1949.5 V546" stroke-width="1.3" fill="none" />
<path d="M1359.3,532 V411.8 M1359.3,368.6 V7.5 H1987.5 V383.5 H1946.5 V546" stroke-width="1.3" fill="none" />
<line x1="1357.3" y1="368.6" x2="1357.3" y2="411.8" stroke-width="1.3"/>
<rect x="1355.2" y="367.8" width="4.8" height="3.8" fill="#000" stroke="none"/>
<rect x="1355.2" y="408.6" width="4.8" height="3.8" fill="#000" stroke="none"/>
<rect x="1368.8" y="70.5" width="6.6" height="251.3" fill="#000" stroke="none"/>
<rect x="1368.8" y="70.5" width="133.8" height="6.1" fill="#000" stroke="none"/>
<rect x="1368.8" y="315.6" width="185.2" height="6.2" fill="#000" stroke="none"/>
<path d="M1502.6,73.3 H1950.2 V321.5 H1554" stroke-width="1.4" fill="none" />
<path id="pool" d="M1503.5,251.9 C1503.5,251.9 1494.9,225.6 1492.9,211.9 C1490.9,198.2 1490.7,180.1 1491.4,169.5 C1492.2,158.9 1493.9,154.9 1497.4,148.3 C1500.9,141.8 1507.8,133.8 1512.6,130.2 C1517.4,126.6 1526.2,126.6 1526.2,126.6 C1526.2,126.6 1523.5,121.5 1523.2,118.1 C1523.0,114.7 1522.9,109.0 1524.7,106.0 C1526.5,103.0 1527.2,102.2 1533.8,99.9 C1540.3,97.6 1557.2,92.8 1564.0,92.3 C1570.8,91.8 1572.1,93.5 1574.6,96.9 C1577.1,100.3 1579.2,112.6 1579.2,112.6 C1579.2,112.6 1594.8,107.9 1603.4,106.0 C1612.0,104.1 1622.0,101.7 1630.6,101.4 C1639.2,101.2 1647.1,101.1 1654.9,104.5 C1662.7,107.9 1677.6,121.7 1677.6,121.7 C1677.6,121.7 1688.4,112.4 1697.2,109.0 C1706.0,105.6 1719.5,101.9 1730.6,101.4 C1741.7,100.9 1751.6,102.9 1763.9,106.0 C1776.2,109.1 1804.7,120.2 1804.7,120.2 C1804.7,120.2 1808.0,110.6 1810.8,107.5 C1813.6,104.4 1814.1,100.6 1821.4,101.4 C1828.7,102.2 1848.2,109.3 1854.7,112.6 C1861.2,115.9 1860.2,116.9 1860.7,121.1 C1861.2,125.3 1857.7,137.8 1857.7,137.8 C1857.7,137.8 1872.6,142.0 1878.9,145.3 C1885.2,148.6 1895.6,157.4 1895.6,157.4 C1895.6,157.4 1905.2,155.1 1909.2,155.9 C1913.2,156.7 1917.0,155.4 1919.8,162.0 C1922.6,168.6 1925.8,187.7 1925.8,195.3 C1925.8,202.9 1923.1,204.9 1919.8,207.4 C1916.5,209.9 1909.7,206.9 1906.2,210.4 C1902.7,213.9 1901.6,224.1 1898.6,228.6 C1895.6,233.1 1888.0,237.7 1888.0,237.7 C1888.0,237.7 1893.5,244.0 1894.0,248.3 C1894.5,252.6 1891.0,263.4 1891.0,263.4 C1891.0,263.4 1875.8,276.0 1869.8,278.5 C1863.8,281.0 1861.2,280.5 1854.7,278.5 C1848.2,276.5 1840.6,268.4 1830.5,266.4 C1820.4,264.4 1810.2,264.9 1794.1,266.4 C1777.9,267.9 1751.2,275.5 1733.6,275.5 C1715.9,275.5 1708.4,270.9 1688.2,266.4 C1668.0,261.9 1635.2,252.1 1612.5,248.3 C1589.8,244.5 1570.1,243.1 1551.9,243.7 C1533.7,244.3 1503.5,251.9 1503.5,251.9 Z" fill="none" stroke-width="1.3" stroke-linejoin="round"/>
<clipPath id="deckclip"><polygon points="1498.6,545 1498.6,501 1519,501 1519,358.6 1635.6,358.6 1635.6,347 1663,322 1831,322 1859,349 1859,545"/></clipPath>
<g clip-path="url(#deckclip)"><path d="M1222.2,545 L1462.2,305 M1272.0,545 L1512.0,305 M1321.8,545 L1561.8,305 M1371.6,545 L1611.6,305 M1421.4,545 L1661.4,305 M1471.2,545 L1711.2,305 M1521.0,545 L1761.0,305 M1570.8,545 L1810.8,305 M1620.6,545 L1860.6,305 M1670.4,545 L1910.4,305 M1720.2,545 L1960.2,305 M1770.0,545 L2010.0,305 M1819.8,545 L2059.8,305 M1869.6,545 L2109.6,305 M1919.4,545 L2159.4,305 M1969.2,545 L2209.2,305 M2019.0,545 L2259.0,305 M2068.8,545 L2308.8,305" stroke-width="1.3" fill="none"/></g>
<rect x="1721.0" y="425.0" width="53.0" height="21.0" fill="#fff" stroke="none"/>
<path d="M1831,321.8 L1859,349 V546" stroke-width="1.3" fill="none" />
<line x1="1635.6" y1="347.0" x2="1663.0" y2="322.0" stroke-width="1.3"/>
<path d="M1498.6,544 V338.6 H1635.6 V546" stroke-width="1.3" fill="none" />
<path d="M1635.6,358.6 H1519 V501 H1368 V532" stroke-width="1.3" fill="none" />
<rect x="1360.0" y="368.0" width="138.0" height="133.0" fill="#fff" stroke="none"/>
<path d="M1358.5,367.8 A140,133.2 0 0 1 1498.6,501" stroke-width="1.4" fill="none" />
<path d="M1358.5,412.6 A91,88.4 0 0 1 1449.5,501" stroke-width="1.4" fill="none" />
<line x1="1368.5" y1="368.3" x2="1368.5" y2="413.3" stroke-width="1.4"/>
<line x1="1398.0" y1="370.0" x2="1387.5" y2="415.0" stroke-width="1.4"/>
<line x1="1429.0" y1="380.0" x2="1408.0" y2="422.0" stroke-width="1.4"/>
<line x1="1456.0" y1="398.6" x2="1425.0" y2="435.0" stroke-width="1.4"/>
<line x1="1446.0" y1="423.0" x2="1433.0" y2="411.0" stroke-width="1.25"/>
<polygon points="1428,407 1437.5,410 1431.5,415.5" fill="#000" stroke="none"/>
<line x1="1357.4" y1="411.0" x2="1327.0" y2="378.7" stroke-width="2.8"/>
<path d="M1333.3,381 A39.5,39.5 0 0 1 1357.4,371.2" stroke-width="1.25" fill="none" />
<line x1="1506.0" y1="523.0" x2="1488.0" y2="523.0" stroke-width="1.25"/>
<polygon points="1483,523 1491,519.5 1491,526.5" fill="#000" stroke="none"/>
<line x1="1642.0" y1="471.6" x2="1626.0" y2="471.6" stroke-width="1.25"/>
<polygon points="1621,471.6 1629,468 1629,475.2" fill="#000" stroke="none"/>
<rect x="1063.6" y="532.5" width="306.4" height="15.5" fill="#000" stroke="none"/>
<rect x="1092.7" y="529.7" width="67.8" height="18.3" fill="#fff" stroke="none"/>
<rect x="1092.7" y="529.7" width="67.8" height="18.3" fill="#fff" stroke-width="1.3"/>
<line x1="1092.7" y1="534.0" x2="1160.5" y2="534.0" stroke-width="1.25"/>
<line x1="1092.7" y1="539.4" x2="1160.5" y2="539.4" stroke-width="1.25"/>
<line x1="1126.0" y1="529.7" x2="1126.0" y2="539.4" stroke-width="1.25"/>
<rect x="1228.0" y="529.7" width="68.6" height="18.3" fill="#fff" stroke="none"/>
<rect x="1228.0" y="529.7" width="68.6" height="18.3" fill="#fff" stroke-width="1.3"/>
<line x1="1228.0" y1="534.0" x2="1296.6" y2="534.0" stroke-width="1.25"/>
<line x1="1228.0" y1="539.4" x2="1296.6" y2="539.4" stroke-width="1.25"/>
<line x1="1262.0" y1="529.7" x2="1262.0" y2="539.4" stroke-width="1.25"/>
<rect x="1366.0" y="545.4" width="400.0" height="16.0" fill="#000" stroke="none"/>
<rect x="1845.0" y="545.4" width="104.0" height="16.0" fill="#000" stroke="none"/>
<rect x="1489.7" y="543.4" width="68.7" height="18.0" fill="#fff" stroke="none"/>
<rect x="1489.7" y="543.4" width="68.7" height="18.0" fill="#fff" stroke-width="1.3"/>
<line x1="1489.7" y1="547.7" x2="1558.4" y2="547.7" stroke-width="1.25"/>
<line x1="1489.7" y1="552.2" x2="1558.4" y2="552.2" stroke-width="1.25"/>
<line x1="1524.0" y1="543.4" x2="1524.0" y2="552.2" stroke-width="1.25"/>
<line x1="1766.0" y1="560.0" x2="1799.0" y2="584.4" stroke-width="2.8"/>
<line x1="1845.0" y1="560.0" x2="1813.0" y2="584.4" stroke-width="2.8"/>
<rect x="1804.5" y="558.0" width="3.5" height="3.5" fill="#000" stroke="none"/>
<path d="M1797,581.5 A39,39 0 0 0 1806,561.5" stroke-width="1.25" fill="none" />
<path d="M1815,581.5 A39,39 0 0 1 1806,561.5" stroke-width="1.25" fill="none" />
<rect x="1944.7" y="545.0" width="4.1" height="389.8" fill="#000" stroke="none"/>
<rect x="1063.6" y="532.5" width="14.0" height="159.5" fill="#000" stroke="none"/>
<rect x="1063.3" y="692.0" width="5.5" height="42.5" fill="#000" stroke="none"/>
<rect x="1063.3" y="734.5" width="14.3" height="55.3" fill="#000" stroke="none"/>
<rect x="1063.3" y="789.8" width="5.1" height="195.7" fill="#000" stroke="none"/>
<rect x="1060.4" y="803.5" width="10.1" height="34.5" fill="#fff" stroke-width="1.3"/>
<line x1="1065.5" y1="803.5" x2="1065.5" y2="838.0" stroke-width="1.25"/>
<line x1="1076.7" y1="692.0" x2="1090.5" y2="709.5" stroke-width="2.8"/>
<line x1="1090.5" y1="717.8" x2="1077.2" y2="735.4" stroke-width="2.8"/>
<path d="M1074.8,713.7 Q1083,712 1090,709.5 M1074.8,713.7 Q1083,715 1090,717.8" stroke-width="0.9" fill="none" />
<rect x="1213.2" y="548.0" width="5.4" height="202.0" fill="#000" stroke="none"/>
<rect x="1077.6" y="747.0" width="9.7" height="3.8" fill="#000" stroke="none"/>
<rect x="1151.5" y="747.0" width="24.1" height="3.8" fill="#000" stroke="none"/>
<rect x="1208.0" y="746.4" width="121.8" height="4.6" fill="#000" stroke="none"/>
<rect x="1213.3" y="740.2" width="45.1" height="10.8" fill="#000" stroke="none"/>
<rect x="1361.0" y="746.4" width="9.3" height="4.6" fill="#000" stroke="none"/>
<path d="M1087.3,748.5 L1096.5,738.5 L1107.2,749.2" stroke-width="2.6" fill="none" />
<path d="M1131.6,748.8 L1141.8,738.5 L1151.5,748.5" stroke-width="2.6" fill="none" />
<line x1="1208.0" y1="748.7" x2="1183.0" y2="724.0" stroke-width="3.2" stroke-linecap="butt"/>
<path d="M1185.0,725.9 A32.4,32.4 0 0 0 1175.6,748.7" stroke-width="1.25" fill="none"/>
<line x1="1361.0" y1="748.7" x2="1336.0" y2="725.7" stroke-width="3.2" stroke-linecap="butt"/>
<path d="M1338.0,727.6 A31.2,31.2 0 0 0 1329.8,748.7" stroke-width="1.25" fill="none"/>
<rect x="1160.5" y="749.0" width="5.3" height="40.8" fill="#000" stroke="none"/>
<rect x="1063.3" y="785.2" width="102.5" height="4.6" fill="#000" stroke="none"/>
<line x1="1083.2" y1="766.3" x2="1083.2" y2="785.2" stroke-width="1.25"/>
<line x1="1088.7" y1="766.3" x2="1088.7" y2="785.2" stroke-width="1.25"/>
<line x1="1102.5" y1="766.3" x2="1102.5" y2="785.2" stroke-width="1.25"/>
<line x1="1108.1" y1="766.3" x2="1108.1" y2="785.2" stroke-width="1.25"/>
<line x1="1114.5" y1="766.3" x2="1114.5" y2="785.2" stroke-width="1.25"/>
<line x1="1120.5" y1="766.3" x2="1120.5" y2="785.2" stroke-width="1.25"/>
<line x1="1132.5" y1="766.3" x2="1132.5" y2="785.2" stroke-width="1.25"/>
<line x1="1137.6" y1="766.3" x2="1137.6" y2="785.2" stroke-width="1.25"/>
<line x1="1143.6" y1="766.3" x2="1143.6" y2="785.2" stroke-width="1.25"/>
<line x1="1149.6" y1="766.3" x2="1149.6" y2="785.2" stroke-width="1.25"/>
<line x1="1156.5" y1="766.3" x2="1156.5" y2="785.2" stroke-width="1.25"/>
<line x1="1090.0" y1="785.2" x2="1102.5" y2="766.3" stroke-width="1.25"/>
<line x1="1120.5" y1="785.2" x2="1132.5" y2="766.3" stroke-width="1.25"/>
<rect x="1161.6" y="789.5" width="4.4" height="4.3" fill="#000" stroke="none"/>
<line x1="1164.0" y1="793.8" x2="1141.0" y2="815.4" stroke-width="3.2" stroke-linecap="butt"/>
<path d="M1144.3,812.3 A27.0,27.0 0 0 0 1164.0,820.8" stroke-width="1.25" fill="none"/>
<rect x="1161.6" y="820.8" width="4.4" height="58.8" fill="#000" stroke="none"/>
<rect x="1161.6" y="875.3" width="67.9" height="4.3" fill="#000" stroke="none"/>
<rect x="1260.7" y="875.3" width="192.3" height="4.3" fill="#000" stroke="none"/>
<line x1="1229.5" y1="877.5" x2="1254.2" y2="853.0" stroke-width="3.2" stroke-linecap="butt"/>
<path d="M1251.7,855.5 A31.2,31.2 0 0 1 1260.7,877.5" stroke-width="1.25" fill="none"/>
<rect x="1365.0" y="548.0" width="5.3" height="15.6" fill="#000" stroke="none"/>
<rect x="1365.0" y="702.8" width="5.3" height="48.8" fill="#000" stroke="none"/>
<path d="M1367.5,563.6 L1357,574.5 L1367.5,585.4" stroke-width="2.6" fill="none" />
<path d="M1367.5,610.4 L1357,621.3 L1367.5,632.2" stroke-width="2.6" fill="none" />
<path d="M1367.5,636.3 L1357,647.2 L1367.5,658.1" stroke-width="2.6" fill="none" />
<path d="M1367.5,683.0 L1357,692.9 L1367.5,702.8" stroke-width="2.6" fill="none" />
<rect x="1366.0" y="632.0" width="4.0" height="5.0" fill="#000" stroke="none"/>
<rect x="1405.3" y="561.0" width="4.9" height="187.5" fill="#000" stroke="none"/>
<rect x="1370.0" y="709.0" width="35.3" height="4.2" fill="#000" stroke="none"/>
<line x1="1370.0" y1="732.0" x2="1405.3" y2="732.0" stroke-width="1.25"/>
<line x1="1386.0" y1="566.0" x2="1405.0" y2="566.0" stroke-width="1.25"/>
<line x1="1386.0" y1="571.9" x2="1405.0" y2="571.9" stroke-width="1.25"/>
<line x1="1386.0" y1="577.8" x2="1405.0" y2="577.8" stroke-width="1.25"/>
<line x1="1386.0" y1="583.7" x2="1405.0" y2="583.7" stroke-width="1.25"/>
<line x1="1386.0" y1="589.6" x2="1405.0" y2="589.6" stroke-width="1.25"/>
<line x1="1386.0" y1="595.5" x2="1405.0" y2="595.5" stroke-width="1.25"/>
<line x1="1386.0" y1="601.4" x2="1405.0" y2="601.4" stroke-width="1.25"/>
<line x1="1386.0" y1="607.3" x2="1405.0" y2="607.3" stroke-width="1.25"/>
<line x1="1386.0" y1="613.2" x2="1405.0" y2="613.2" stroke-width="1.25"/>
<line x1="1386.0" y1="619.1" x2="1405.0" y2="619.1" stroke-width="1.25"/>
<line x1="1386.0" y1="625.0" x2="1405.0" y2="625.0" stroke-width="1.25"/>
<line x1="1386.0" y1="630.9" x2="1405.0" y2="630.9" stroke-width="1.25"/>
<line x1="1386.0" y1="636.8" x2="1405.0" y2="636.8" stroke-width="1.25"/>
<line x1="1386.0" y1="642.7" x2="1405.0" y2="642.7" stroke-width="1.25"/>
<line x1="1386.0" y1="648.6" x2="1405.0" y2="648.6" stroke-width="1.25"/>
<line x1="1386.0" y1="654.5" x2="1405.0" y2="654.5" stroke-width="1.25"/>
<line x1="1386.0" y1="660.4" x2="1405.0" y2="660.4" stroke-width="1.25"/>
<line x1="1386.0" y1="666.3" x2="1405.0" y2="666.3" stroke-width="1.25"/>
<line x1="1386.0" y1="672.2" x2="1405.0" y2="672.2" stroke-width="1.25"/>
<line x1="1386.0" y1="678.1" x2="1405.0" y2="678.1" stroke-width="1.25"/>
<line x1="1386.0" y1="684.0" x2="1405.0" y2="684.0" stroke-width="1.25"/>
<line x1="1386.0" y1="689.9" x2="1405.0" y2="689.9" stroke-width="1.25"/>
<line x1="1386.0" y1="695.8" x2="1405.0" y2="695.8" stroke-width="1.25"/>
<line x1="1386.0" y1="701.7" x2="1405.0" y2="701.7" stroke-width="1.25"/>
<line x1="1386.0" y1="569.0" x2="1405.0" y2="579.0" stroke-width="1.25"/>
<line x1="1386.0" y1="600.0" x2="1405.0" y2="610.0" stroke-width="1.25"/>
<line x1="1386.0" y1="645.0" x2="1405.0" y2="655.0" stroke-width="1.25"/>
<line x1="1386.0" y1="680.0" x2="1405.0" y2="690.0" stroke-width="1.25"/>
<line x1="1404.6" y1="750.6" x2="1377.6" y2="773.4" stroke-width="3.2" stroke-linecap="butt"/>
<path d="M1378.4,772.7 A34.3,34.3 0 0 1 1370.3,750.6" stroke-width="1.25" fill="none"/>
<rect x="1405.0" y="747.0" width="16.0" height="15.5" fill="#000" stroke="none"/>
<rect x="1461.6" y="747.0" width="16.0" height="15.5" fill="#000" stroke="none"/>
<rect x="1657.0" y="747.0" width="16.0" height="15.5" fill="#000" stroke="none"/>
<rect x="1657.0" y="561.0" width="16.0" height="15.5" fill="#000" stroke="none"/>
<rect x="1405.0" y="864.0" width="16.0" height="15.5" fill="#000" stroke="none"/>
<rect x="1521.0" y="925.0" width="16.0" height="15.5" fill="#000" stroke="none"/>
<rect x="1641.5" y="925.0" width="16.0" height="15.5" fill="#000" stroke="none"/>
<rect x="1667.0" y="791.0" width="15.5" height="15.7" fill="#000" stroke="none"/>
<polygon points="1555,744.4 1624,744.4 1650,768 1650,906 1622,934 1555,934 1528,908 1528,770" fill="none" stroke="#555" stroke-width="1.2" stroke-dasharray="5,4"/>
<line x1="1453.0" y1="876.2" x2="1513.0" y2="876.2" stroke-width="1.25"/>
<line x1="1453.0" y1="878.4" x2="1513.0" y2="878.4" stroke-width="1.25"/>
<line x1="1442.0" y1="879.0" x2="1442.0" y2="931.0" stroke-width="1.3"/>
<line x1="1453.6" y1="879.0" x2="1453.6" y2="931.0" stroke-width="1.3"/>
<line x1="1465.0" y1="879.0" x2="1465.0" y2="931.0" stroke-width="1.3"/>
<line x1="1476.6" y1="879.0" x2="1476.6" y2="931.0" stroke-width="1.3"/>
<line x1="1488.0" y1="879.0" x2="1488.0" y2="931.0" stroke-width="1.3"/>
<line x1="1499.4" y1="879.0" x2="1499.4" y2="931.0" stroke-width="1.3"/>
<line x1="1511.0" y1="879.0" x2="1511.0" y2="931.0" stroke-width="1.3"/>
<polygon points="1452,880 1456,880 1446.5,900 1450,903.5 1438,908 1428.5,930 1424.5,930 1434.5,906 1447,901.5 1443,898.5" fill="#fff" stroke="none"/>
<path d="M1452,880 L1441.5,899.5 L1450,903.3 L1430,906.5 L1437,910 L1428,930" stroke-width="1.25" fill="none" />
<path d="M1456,880 L1445.5,899 L1455,902.5 L1434.5,906 L1441,909 L1432,930" stroke-width="1.25" fill="none" />
<line x1="1516.0" y1="904.4" x2="1465.0" y2="904.4" stroke-width="1.25"/>
<polygon points="1459,904.4 1467,900.8 1467,908" fill="#000" stroke="none"/>
<rect x="1349.8" y="930.3" width="171.2" height="5.0" fill="#000" stroke="none"/>
<rect x="1349.8" y="930.3" width="5.0" height="298.6" fill="#000" stroke="none"/>
<rect x="1349.8" y="1224.0" width="185.9" height="4.9" fill="#000" stroke="none"/>
<rect x="1349.8" y="1217.8" width="35.7" height="11.1" fill="#000" stroke="none"/>
<rect x="1500.0" y="1217.8" width="35.7" height="11.1" fill="#000" stroke="none"/>
<rect x="1530.7" y="1184.6" width="5.0" height="44.3" fill="#000" stroke="none"/>
<rect x="1500.0" y="935.0" width="4.4" height="29.3" fill="#000" stroke="none"/>
<rect x="1500.0" y="993.8" width="4.4" height="190.8" fill="#000" stroke="none"/>
<line x1="1502.4" y1="964.3" x2="1477.8" y2="987.7" stroke-width="3.2" stroke-linecap="butt"/>
<path d="M1481.0,984.6 A29.5,29.5 0 0 0 1502.4,993.8" stroke-width="1.25" fill="none"/>
<rect x="1500.0" y="1179.7" width="178.4" height="4.9" fill="#000" stroke="none"/>
<rect x="1673.8" y="935.0" width="4.6" height="13.3" fill="#000" stroke="none"/>
<rect x="1673.8" y="1001.2" width="4.6" height="275.5" fill="#000" stroke="none"/>
<line x1="1676.0" y1="948.3" x2="1658.7" y2="970.5" stroke-width="2.6"/>
<line x1="1658.7" y1="980.3" x2="1676.0" y2="1001.2" stroke-width="2.6"/>
<path d="M1660,970 Q1668,972 1676,975 M1660,980.5 Q1668,977 1676,975" stroke-width="0.9" fill="none" />
<rect x="1657.0" y="931.0" width="40.0" height="4.3" fill="#000" stroke="none"/>
<rect x="1729.0" y="931.0" width="219.8" height="4.3" fill="#000" stroke="none"/>
<line x1="1729.0" y1="933.2" x2="1704.0" y2="957.5" stroke-width="3.2" stroke-linecap="butt"/>
<path d="M1706.1,955.5 A32.0,32.0 0 0 1 1697.0,933.2" stroke-width="1.25" fill="none"/>
<rect x="1063.6" y="981.2" width="155.4" height="4.3" fill="#000" stroke="none"/>
<rect x="1214.4" y="981.2" width="4.6" height="32.8" fill="#000" stroke="none"/>
<rect x="1214.4" y="1009.4" width="135.6" height="4.6" fill="#000" stroke="none"/>
<circle cx="1086.2" cy="961.8" r="14" fill="none" stroke-width="1.3"/>
<circle cx="1237" cy="991" r="14" fill="#000" stroke="none"/>
<rect x="1134.7" y="840.8" width="26.5" height="26.2" fill="none" stroke-width="1.25"/>
<rect x="1137.6" y="844.5" width="15.5" height="18.3" rx="4" fill="none" stroke-width="1.3"/>
<circle cx="1157.8" cy="855.5" r="1.6" fill="#000" stroke="none"/>
<line x1="1150.0" y1="852.5" x2="1157.8" y2="855.5" stroke-width="1.25"/>
<rect x="1163.3" y="879.6" width="61.2" height="19.4" fill="none" stroke-width="1.3"/>
<rect x="1265" y="879.6" width="80.3" height="19.4" fill="none" stroke-width="1.3"/>
<path d="M1668,806.7 V931 M1688.4,931 V825 H1722.8 V804.7 H1682.5" stroke-width="1.2" fill="none" />
<path d="M1761,931 V804.7 H1787" stroke-width="1.2" fill="none" />
<path d="M1774,806 V931 M1761,890 H1787 M1761,916.9 H1787" stroke="#444" stroke-width="1.3" stroke-dasharray="4,3" fill="none"/>
<rect x="1765.5" y="845" width="9" height="11" rx="2.5" fill="none" stroke-width="1.3"/>
<circle cx="1778.5" cy="850.5" r="1.3" fill="#000" stroke="none"/>
<rect x="1786.9" y="802.5" width="3.9" height="132.3" fill="#000" stroke="none"/>
<rect x="1786.9" y="802.5" width="35.1" height="4.2" fill="#000" stroke="none"/>
<rect x="1852.5" y="802.5" width="14.1" height="4.2" fill="#000" stroke="none"/>
<rect x="1858.0" y="806.7" width="4.0" height="4.7" fill="#000" stroke="none"/>
<rect x="1897.0" y="802.5" width="51.8" height="4.2" fill="#000" stroke="none"/>
<rect x="1858.0" y="842.7" width="4.0" height="92.1" fill="#000" stroke="none"/>
<line x1="1852.5" y1="804.6" x2="1827.5" y2="780.0" stroke-width="3.2" stroke-linecap="butt"/>
<path d="M1830.8,783.2 A30.5,30.5 0 0 0 1822.0,804.6" stroke-width="1.25" fill="none"/>
<line x1="1897.0" y1="804.6" x2="1872.8" y2="780.0" stroke-width="3.2" stroke-linecap="butt"/>
<path d="M1875.7,782.9 A30.4,30.4 0 0 0 1866.6,804.6" stroke-width="1.25" fill="none"/>
<line x1="1860.3" y1="842.7" x2="1835.3" y2="817.7" stroke-width="3.2" stroke-linecap="butt"/>
<path d="M1838.2,820.6 A31.3,31.3 0 0 1 1860.0,811.4" stroke-width="1.25" fill="none"/>
<rect x="1790.8" y="806.7" width="23.4" height="52.3" fill="none" stroke-width="1.3"/>
<ellipse cx="1801.7" cy="832.2" rx="7.4" ry="8.4" fill="none" stroke-width="1.3"/>
<path d="M1790.8,867 H1799.4 V886.4 H1790.8" fill="none" stroke-width="1.3"/>
<path d="M1799.4,868.5 C1804,866 1818,866 1818,876.3 C1818,886.5 1804,886.5 1799.4,884.5" fill="none" stroke-width="1.3"/>
<line x1="1790.8" y1="894.2" x2="1858.0" y2="894.2" stroke-width="1.3"/>
<rect x="1797" y="899.7" width="55.5" height="25.8" rx="12.9" fill="none" stroke-width="1.2"/>
<rect x="1877.5" y="877.8" width="6.3" height="3.2" fill="#000" stroke="none"/>
<rect x="1916.6" y="877.8" width="7.8" height="3.2" fill="#000" stroke="none"/>
<rect x="1864.2" y="874.4" width="13.3" height="8.9" fill="#fff" stroke="none"/>
<rect x="1864.2" y="874.4" width="13.3" height="8.9" fill="#fff" stroke-width="1.3"/>
<line x1="1864.2" y1="878.8" x2="1877.5" y2="878.8" stroke-width="1.25"/>
<rect x="1924.4" y="874.4" width="13.3" height="8.9" fill="#fff" stroke="none"/>
<rect x="1924.4" y="874.4" width="13.3" height="8.9" fill="#fff" stroke-width="1.3"/>
<line x1="1924.4" y1="878.8" x2="1937.7" y2="878.8" stroke-width="1.25"/>
<rect x="1937.7" y="877.8" width="11.1" height="57.0" fill="#000" stroke="none"/>
<line x1="1883.8" y1="879.4" x2="1910.3" y2="854.4" stroke-width="3.2" stroke-linecap="butt"/>
<path d="M1907.7,856.9 A32.8,32.8 0 0 1 1916.6,879.4" stroke-width="1.25" fill="none"/>
<path d="M1880.6,881 V908.3 H1922 V881" stroke-width="1.2" fill="none" />
<rect x="1850.7" y="934.0" width="4.3" height="20.5" fill="#000" stroke="none"/>
<rect x="1850.7" y="985.5" width="4.3" height="22.7" fill="#000" stroke="none"/>
<path d="M1852.8,1007 L1900.5,1055.5" stroke-width="4.3" fill="none" />
<rect x="1936.0" y="934.0" width="4.4" height="123.2" fill="#000" stroke="none"/>
<rect x="1899.0" y="1053.2" width="41.4" height="4.0" fill="#000" stroke="none"/>
<line x1="1919.0" y1="953.6" x2="1919.0" y2="1053.8" stroke-width="1.25"/>
<line x1="1853.5" y1="953.6" x2="1936.0" y2="953.6" stroke-width="1.3"/>
<line x1="1852.8" y1="955.6" x2="1828.8" y2="979.8" stroke-width="3.2" stroke-linecap="butt"/>
<path d="M1831.7,976.8 A29.9,29.9 0 0 0 1852.8,985.5" stroke-width="1.25" fill="none"/>
<rect x="1899.0" y="1053.8" width="14.3" height="222.9" fill="#000" stroke="none"/>
<rect x="1899.0" y="1137.8" width="17.0" height="55.5" fill="#fff" stroke-width="1.3"/>
<line x1="1905.5" y1="1137.8" x2="1905.5" y2="1193.3" stroke-width="1.25"/>
<line x1="1910.5" y1="1137.8" x2="1910.5" y2="1193.3" stroke-width="1.25"/>
<line x1="1899.0" y1="1165.4" x2="1916.0" y2="1165.4" stroke-width="1.25"/>
<rect x="1674.2" y="1272.4" width="239.1" height="4.3" fill="#000" stroke="none"/>
<rect x="1704.5" y="1247.6" width="166" height="25" fill="none" stroke-width="1.5"/>
<line x1="1704.5" y1="1263.0" x2="1870.6" y2="1263.0" stroke-width="1.2"/>
<rect x="1704.0" y="1247.4" width="4.4" height="25.0" fill="#000" stroke="none"/>
<rect x="1866.3" y="1247.4" width="4.3" height="25.0" fill="#000" stroke="none"/>
<rect x="1704.0" y="1260.0" width="48.0" height="3.5" fill="#000" stroke="none"/>
<rect x="1748.0" y="1247.4" width="4.0" height="16.1" fill="#000" stroke="none"/>
<rect x="1822.5" y="1260.0" width="48.1" height="3.5" fill="#000" stroke="none"/>
<rect x="1822.5" y="1247.4" width="4.0" height="16.1" fill="#000" stroke="none"/>
<circle cx="1470" cy="1052.9" r="5.5" fill="#000" stroke="none"/>
<circle cx="1804.6" cy="1052.9" r="5.5" fill="#000" stroke="none"/>
<g transform="translate(1532.4,660.0) rotate(45)"><path d="M3,-1.6 L20,-3.2 Q27,-3.2 27,0 Q27,3.2 20,3.2 L3,1.6 Z" fill="#fff" stroke-width="1.3"/></g><g transform="translate(1532.4,660.0) rotate(135)"><path d="M3,-1.6 L20,-3.2 Q27,-3.2 27,0 Q27,3.2 20,3.2 L3,1.6 Z" fill="#fff" stroke-width="1.3"/></g><g transform="translate(1532.4,660.0) rotate(225)"><path d="M3,-1.6 L20,-3.2 Q27,-3.2 27,0 Q27,3.2 20,3.2 L3,1.6 Z" fill="#fff" stroke-width="1.3"/></g><g transform="translate(1532.4,660.0) rotate(315)"><path d="M3,-1.6 L20,-3.2 Q27,-3.2 27,0 Q27,3.2 20,3.2 L3,1.6 Z" fill="#fff" stroke-width="1.3"/></g>
<circle cx="1532.4" cy="660.0" r="2.2" fill="#fff" stroke-width="1.3"/>
<g transform="translate(1811.4,678.0) rotate(45)"><path d="M3,-1.6 L20,-3.2 Q27,-3.2 27,0 Q27,3.2 20,3.2 L3,1.6 Z" fill="#fff" stroke-width="1.3"/></g><g transform="translate(1811.4,678.0) rotate(135)"><path d="M3,-1.6 L20,-3.2 Q27,-3.2 27,0 Q27,3.2 20,3.2 L3,1.6 Z" fill="#fff" stroke-width="1.3"/></g><g transform="translate(1811.4,678.0) rotate(225)"><path d="M3,-1.6 L20,-3.2 Q27,-3.2 27,0 Q27,3.2 20,3.2 L3,1.6 Z" fill="#fff" stroke-width="1.3"/></g><g transform="translate(1811.4,678.0) rotate(315)"><path d="M3,-1.6 L20,-3.2 Q27,-3.2 27,0 Q27,3.2 20,3.2 L3,1.6 Z" fill="#fff" stroke-width="1.3"/></g>
<circle cx="1811.4" cy="678.0" r="2.2" fill="#fff" stroke-width="1.3"/>
<g transform="translate(1786.6,1160.5) rotate(45)"><path d="M3,-1.6 L20,-3.2 Q27,-3.2 27,0 Q27,3.2 20,3.2 L3,1.6 Z" fill="#fff" stroke-width="1.3"/></g><g transform="translate(1786.6,1160.5) rotate(135)"><path d="M3,-1.6 L20,-3.2 Q27,-3.2 27,0 Q27,3.2 20,3.2 L3,1.6 Z" fill="#fff" stroke-width="1.3"/></g><g transform="translate(1786.6,1160.5) rotate(225)"><path d="M3,-1.6 L20,-3.2 Q27,-3.2 27,0 Q27,3.2 20,3.2 L3,1.6 Z" fill="#fff" stroke-width="1.3"/></g><g transform="translate(1786.6,1160.5) rotate(315)"><path d="M3,-1.6 L20,-3.2 Q27,-3.2 27,0 Q27,3.2 20,3.2 L3,1.6 Z" fill="#fff" stroke-width="1.3"/></g>
<circle cx="1786.6" cy="1160.5" r="2.2" fill="#fff" stroke-width="1.3"/>
<text x="1408.3" y="209.0" font-size="19.91" textLength="49.1" lengthAdjust="spacingAndGlyphs" font-weight="normal" stroke="#000" stroke-width="0.24">PATIO</text>
<text x="1626.8" y="186.2" font-size="19.77" textLength="143.7" lengthAdjust="spacingAndGlyphs" font-weight="normal" stroke="#000" stroke-width="0.24">SWIMMING POOL</text>
<text x="1665.7" y="209.0" font-size="19.91" textLength="67.1" lengthAdjust="spacingAndGlyphs" font-weight="normal" stroke="#000" stroke-width="0.24">30' X 13'</text>
<text x="1551.2" y="352.6" font-size="10.17" textLength="33.1" lengthAdjust="spacingAndGlyphs" font-weight="normal" stroke="#000" stroke-width="0.12">BENCH</text>
<text x="1443.3" y="433.2" font-size="10.47" textLength="13.2" lengthAdjust="spacingAndGlyphs" font-weight="normal" stroke="#000" stroke-width="0.13">UP</text>
<text x="1644.3" y="476.2" font-size="10.47" textLength="13.2" lengthAdjust="spacingAndGlyphs" font-weight="normal" stroke="#000" stroke-width="0.13">UP</text>
<text x="1507.2" y="526.2" font-size="10.47" textLength="13.5" lengthAdjust="spacingAndGlyphs" font-weight="normal" stroke="#000" stroke-width="0.13">DN</text>
<text x="1724.7" y="442.0" font-size="18.90" textLength="44.5" lengthAdjust="spacingAndGlyphs" font-weight="normal" stroke="#000" stroke-width="0.23">DECK</text>
<text x="1092.4" y="644.4" font-size="19.62" textLength="104.4" lengthAdjust="spacingAndGlyphs" font-weight="normal" stroke="#000" stroke-width="0.24">BEDROOM 6</text>
<text x="1103.2" y="666.4" font-size="18.75" textLength="82.9" lengthAdjust="spacingAndGlyphs" font-weight="normal" stroke="#000" stroke-width="0.22">14'8" X 10'</text>
<text x="1241.2" y="644.2" font-size="17.44" textLength="101.9" lengthAdjust="spacingAndGlyphs" font-weight="normal" stroke="#000" stroke-width="0.21">BEDROOM 7</text>
<text x="1254.8" y="666.5" font-size="18.17" textLength="72.6" lengthAdjust="spacingAndGlyphs" font-weight="normal" stroke="#000" stroke-width="0.22">14'8" X 11'</text>
<text x="1373.1" y="724.6" font-size="9.01" textLength="29.8" lengthAdjust="spacingAndGlyphs" font-weight="normal" stroke="#000" stroke-width="0.11">SHLVS</text>
<text x="1478.7" y="609.0" font-size="15.99" textLength="109.1" lengthAdjust="spacingAndGlyphs" font-weight="normal" stroke="#000" stroke-width="0.19">GAME ROOM</text>
<text x="1492.7" y="631.6" font-size="18.31" textLength="80.1" lengthAdjust="spacingAndGlyphs" font-weight="normal" stroke="#000" stroke-width="0.22">18'3" X 14'</text>
<text x="1730.3" y="721.0" font-size="17.44" textLength="163.1" lengthAdjust="spacingAndGlyphs" font-weight="normal" stroke="#000" stroke-width="0.21">RECREATION ROOM</text>
<text x="1762.1" y="743.6" font-size="18.31" textLength="98.6" lengthAdjust="spacingAndGlyphs" font-weight="normal" stroke="#000" stroke-width="0.22">20'3" X 17'9"</text>
<text x="1133.4" y="943.5" font-size="17.73" textLength="148.3" lengthAdjust="spacingAndGlyphs" font-weight="normal" stroke="#000" stroke-width="0.21">UTILITY/STORAGE</text>
<text x="1172.6" y="892.5" font-size="10.32" textLength="42.6" lengthAdjust="spacingAndGlyphs" font-weight="normal" stroke="#000" stroke-width="0.12">SHELVES</text>
<text x="1284.6" y="892.5" font-size="10.32" textLength="42.2" lengthAdjust="spacingAndGlyphs" font-weight="normal" stroke="#000" stroke-width="0.12">SHELVES</text>
<text x="1697.7" y="878.6" font-size="12.50" textLength="53.0" lengthAdjust="spacingAndGlyphs" font-weight="normal" stroke="#000" stroke-width="0.15">WET BAR</text>
<text x="1819.5" y="858.3" font-size="12.50" textLength="34.1" lengthAdjust="spacingAndGlyphs" font-weight="normal" stroke="#000" stroke-width="0.15">BATH</text>
<text x="1765.9" y="907.8" font-size="9.88" textLength="14.8" lengthAdjust="spacingAndGlyphs" font-weight="normal" stroke="#000" stroke-width="0.12">DW</text>
<text x="1879.2" y="924.7" font-size="13.66" textLength="43.6" lengthAdjust="spacingAndGlyphs" font-weight="normal" stroke="#000" stroke-width="0.16">SAUNA</text>
<text x="1517.9" y="908.2" font-size="10.47" textLength="12.6" lengthAdjust="spacingAndGlyphs" font-weight="normal" stroke="#000" stroke-width="0.13">UP</text>
<text x="1359.7" y="1094.7" font-size="17.88" textLength="135.4" lengthAdjust="spacingAndGlyphs" font-weight="normal" stroke="#000" stroke-width="0.21">EXERCISE ROOM</text>
<text x="1379.7" y="1117.0" font-size="17.44" textLength="95.9" lengthAdjust="spacingAndGlyphs" font-weight="normal" stroke="#000" stroke-width="0.21">21'5" X 10'9"</text>
<text x="1528.2" y="1063.2" font-size="17.73" textLength="122.7" lengthAdjust="spacingAndGlyphs" font-weight="normal" stroke="#000" stroke-width="0.21">SITTING ROOM</text>
<text x="1543.1" y="1085.0" font-size="18.02" textLength="92.5" lengthAdjust="spacingAndGlyphs" font-weight="normal" stroke="#000" stroke-width="0.22">18'1" X 12'6"</text>
<text x="1873.4" y="987.0" font-size="12.50" textLength="30.4" lengthAdjust="spacingAndGlyphs" font-weight="normal" stroke="#000" stroke-width="0.15">WINE</text>
<text x="1866.4" y="1001.0" font-size="12.21" textLength="45.4" lengthAdjust="spacingAndGlyphs" font-weight="normal" stroke="#000" stroke-width="0.15">CELLAR</text>
<text transform="translate(1932.4,1021) rotate(-90)" font-size="12" textLength="42.6" lengthAdjust="spacingAndGlyphs" stroke="none">SHELVES</text>
<text x="1731.1" y="1100.8" font-size="16.57" textLength="111.0" lengthAdjust="spacingAndGlyphs" font-weight="normal" stroke="#000" stroke-width="0.2">MEDIA ROOM</text>
<text x="1736.0" y="1123.5" font-size="18.60" textLength="102.6" lengthAdjust="spacingAndGlyphs" font-weight="normal" stroke="#000" stroke-width="0.22">24'11" X 16'3"</text>
<text x="1710.5" y="1258.5" font-size="10.90" textLength="36.0" lengthAdjust="spacingAndGlyphs" font-weight="normal" stroke="#000" stroke-width="0.13">SHLVS</text>
<text x="1828.5" y="1258.5" font-size="10.90" textLength="36.0" lengthAdjust="spacingAndGlyphs" font-weight="normal" stroke="#000" stroke-width="0.13">SHLVS</text>
<text x="1765.9" y="1261.6" font-size="10.32" textLength="39.9" lengthAdjust="spacingAndGlyphs" font-weight="normal" stroke="#000" stroke-width="0.12">BUILT-IN</text>
<text x="1043.0" y="1224.7" font-size="35.61" textLength="224.0" lengthAdjust="spacingAndGlyphs" font-weight="normal" stroke="#000" stroke-width="1.25">LOWER LEVEL</text>
<text x="1043.2" y="1257.6" font-size="25.58" textLength="152.7" lengthAdjust="spacingAndGlyphs" font-weight="normal" stroke="#000" stroke-width="0.46">8'8" CEILING</text>
<text x="1043.2" y="1291.6" font-size="25.58" textLength="445.6" lengthAdjust="spacingAndGlyphs" font-weight="normal" stroke="#000" stroke-width="0.46">ESTIMATED SQUARE FOOTAGE: 2700</text>
<rect x="0" y="1231" width="211" height="69" fill="#5f5f5f" stroke="none"/>
<text x="15.5" y="1276.3" font-size="45.5" textLength="123.5" lengthAdjust="spacingAndGlyphs" stroke="#e2e2e2" stroke-width="1.3" style="fill:#e2e2e2;font-family:'Liberation Serif',serif">bright</text>
<path d="M130.5,1246 L132.5,1253 L139,1255 L132.5,1257 L130.5,1264 L128.5,1257 L122,1255 L128.5,1253 Z" fill="#e2553a" stroke="none"/>
<text x="150.4" y="1277" font-size="23.5" textLength="47.3" lengthAdjust="spacingAndGlyphs" stroke="none" style="fill:#e2e2e2">MLS</text>
<text x="140.7" y="1249" font-size="6" stroke="none" style="fill:#e2e2e2">TM</text>
</svg></body></html>
